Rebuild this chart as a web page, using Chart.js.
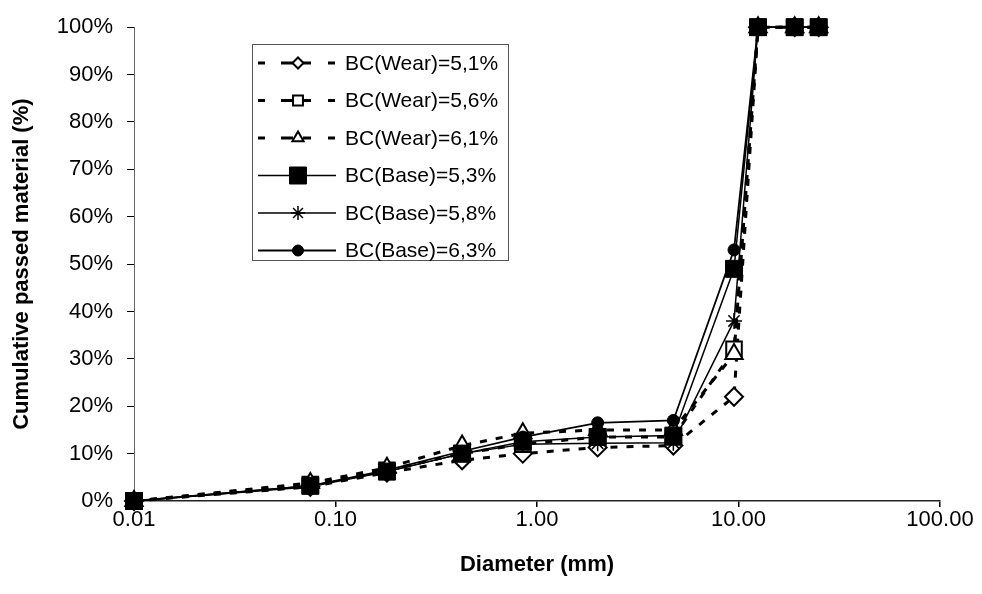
<!DOCTYPE html>
<html>
<head>
<meta charset="utf-8">
<script src="https://cdn.jsdelivr.net/npm/chart.js@4"></script>
<style>
  html, body { margin: 0; padding: 0; background: #fff; }
  #wrap { width: 982px; height: 594px; position: relative; }
</style>
</head>
<body>
<div id="wrap"><canvas id="c" width="982" height="594"></canvas></div>
<script>
// ---- data ----
const diameters = [0.01, 0.075, 0.18, 0.425, 0.85, 2.0, 4.75, 9.5, 12.5, 19.0, 25.0];
const seriesNames = ["BC(Wear)=5,1%", "BC(Wear)=5,6%", "BC(Wear)=6,1%", "BC(Base)=5,3%", "BC(Base)=5,8%", "BC(Base)=6,3%"];
const wear51 = [0, 3.0, 6.0, 8.6, 10.0, 11.3, 11.7, 22, 100, 100, 100];
const wear56 = [0, 3.5, 6.5, 10.0, 12.0, 13.5, 13.5, 32, 100, 100, 100];
const wear61 = [0, 3.8, 7.0, 11.7, 14.3, 15.0, 15.0, 31, 100, 100, 100];
const base53 = [0, 3.2, 6.2, 10.0, 12.5, 13.5, 13.8, 49, 100, 100, 100];
const base58 = [0, 3.0, 6.2, 10.0, 12.0, 12.2, 12.3, 38, 100, 100, 100];
const base63 = [0, 3.2, 6.5, 10.5, 13.5, 16.5, 17.0, 53, 100, 100, 100];
const xTicks = [0.01, 0.1, 1, 10, 100];
const yTicks = [0, 10, 20, 30, 40, 50, 60, 70, 80, 90, 100];

const FONT = "'Liberation Sans', Arial, Helvetica, sans-serif";
Chart.defaults.font.family = FONT;
Chart.defaults.color = '#000';

function pts(arr) { return diameters.map((d, i) => ({ x: d, y: arr[i] })); }

const styles = [
  { dash: [7, 9], width: 3, ps: 'rectRot', r: 9, fill: '#fff', bw: 2, lr: 5.5, order: 6 },
  { dash: [7, 9], width: 3, ps: 'rect', r: 11, fill: '#fff', bw: 2, lr: 7, order: 5 },
  { dash: [7, 9], width: 3, ps: 'triangle', r: 10, fill: '#fff', bw: 2, lr: 6.5, order: 4 },
  { dash: [], width: 1.5, ps: 'rect', r: 12, fill: '#000', bw: 1, lr: 12, order: 1 },
  { dash: [], width: 1.5, ps: 'star', r: 8, fill: '#000', bw: 1.5, lr: 7, order: 3 },
  { dash: [], width: 1.8, ps: 'circle', r: 6, fill: '#000', bw: 1, lr: 5.5, order: 2 }
];
const allSeries = [wear51, wear56, wear61, base53, base58, base63];

const datasets = allSeries.map((arr, i) => ({
  label: seriesNames[i],
  data: pts(arr),
  order: styles[i].order,
  borderColor: '#000',
  backgroundColor: styles[i].fill,
  borderWidth: styles[i].width,
  borderDash: styles[i].dash,
  pointStyle: styles[i].ps,
  pointRadius: styles[i].r,
  pointBorderWidth: styles[i].bw,
  pointBorderColor: '#000',
  pointBackgroundColor: styles[i].fill,
  tension: 0,
  clip: false
}));

const legendPlugin = {
  id: 'boxLegend',
  afterDraw(chart) {
    const ctx = chart.ctx;
    const bx = 252, by = 44, bw = 256, bh = 216;
    ctx.save();
    ctx.strokeStyle = '#555';
    ctx.lineWidth = 1;
    ctx.setLineDash([]);
    ctx.strokeRect(bx + 0.5, by + 0.5, bw, bh);
    const rowY0 = 63, rowStep = 37.5;
    for (let i = 0; i < seriesNames.length; i++) {
      const y = rowY0 + i * rowStep;
      const st = styles[i];
      ctx.strokeStyle = '#000';
      ctx.setLineDash([]);
      if (st.dash.length) {
        ctx.lineWidth = 3;
        const segs = [[258, 265], [281, 293], [303, 311], [328, 335]];
        ctx.beginPath();
        segs.forEach(s => { ctx.moveTo(s[0], y); ctx.lineTo(s[1], y); });
        ctx.stroke();
      } else {
        ctx.lineWidth = st.width;
        ctx.beginPath();
        ctx.moveTo(258, y); ctx.lineTo(336, y);
        ctx.stroke();
      }
      ctx.fillStyle = st.fill;
      ctx.strokeStyle = '#000';
      ctx.lineWidth = st.bw;
      Chart.helpers.drawPoint(ctx, { pointStyle: st.ps, radius: st.lr, rotation: 0, borderWidth: st.bw }, 298, y);
      ctx.fillStyle = '#000';
      ctx.font = '21px ' + FONT;
      ctx.textBaseline = 'middle';
      ctx.textAlign = 'left';
      ctx.fillText(seriesNames[i], 345, y + 1);
    }
    ctx.restore();
  }
};

new Chart(document.getElementById('c'), {
  type: 'line',
  data: { datasets },
  options: {
    responsive: false,
    animation: false,
    devicePixelRatio: 1,
    layout: { padding: { left: 0, top: 24, right: 42, bottom: 0 } },
    plugins: { legend: { display: false }, tooltip: { enabled: false } },
    scales: {
      x: {
        type: 'logarithmic',
        min: 0.01,
        max: 100,
        afterBuildTicks: s => { s.ticks = xTicks.map(v => ({ value: v, major: true })); },
        afterFit: s => { s.height = 93; },
        ticks: {
          autoSkip: false,
          maxRotation: 0,
          padding: 0,
          font: { size: 22 },
          color: '#000',
          callback: v => Number(v).toFixed(2)
        },
        grid: { drawOnChartArea: false, drawTicks: true, tickLength: 6, color: '#000', lineWidth: 1.5 },
        border: { display: true, color: '#222', width: 1.5 },
        title: {
          display: true,
          text: 'Diameter (mm)',
          font: { size: 22, weight: 'bold' },
          color: '#000',
          padding: { top: 0, bottom: 16 }
        }
      },
      y: {
        type: 'linear',
        min: 0,
        max: 100,
        afterBuildTicks: s => { s.ticks = yTicks.map(v => ({ value: v })); },
        afterFit: s => { s.width = 134; },
        ticks: {
          padding: 14,
          font: { size: 22 },
          color: '#000',
          callback: v => v + '%'
        },
        grid: { drawOnChartArea: false, drawTicks: true, tickLength: 7, color: '#000', lineWidth: 1 },
        border: { display: true, color: '#666', width: 1, dash: [2, 2] },
        title: {
          display: true,
          text: 'Cumulative passed material (%)',
          font: { size: 22, weight: 'bold' },
          color: '#000',
          padding: { top: 9, bottom: 0 }
        }
      }
    }
  },
  plugins: [legendPlugin]
});
</script>
</body>
</html>
